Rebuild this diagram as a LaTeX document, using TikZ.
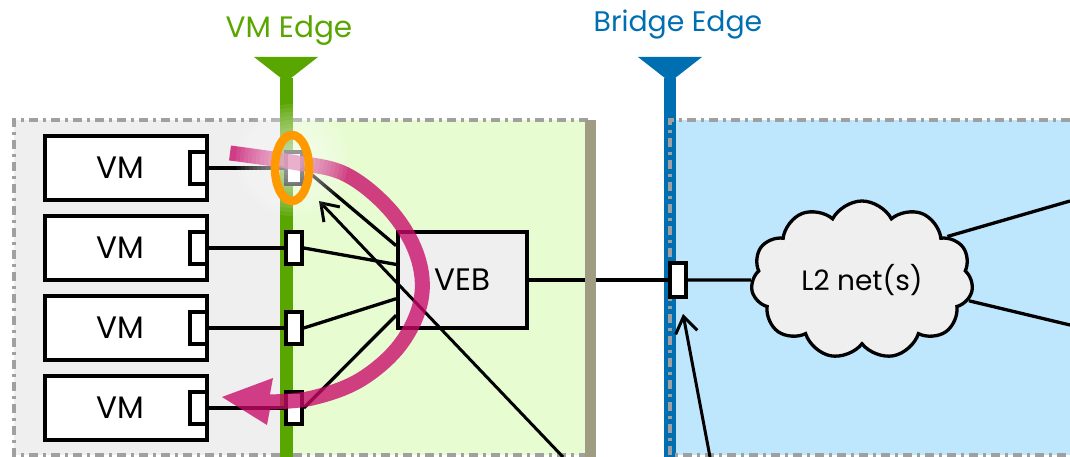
\documentclass[tikz,border=0pt]{standalone}
\usepackage{fontspec}
\setmainfont{Poppins}
\usetikzlibrary{shapes.symbols,arrows.meta,calc}
\definecolor{vmgreen}{RGB}{90,166,0}
\definecolor{brblue}{RGB}{0,111,178}
\definecolor{lgreen}{RGB}{232,252,210}
\definecolor{lgray}{RGB}{239,239,239}
\definecolor{lblue}{RGB}{190,230,252}
\definecolor{olivebar}{RGB}{160,156,132}
\definecolor{dashgray}{RGB}{160,160,160}
\definecolor{ringorange}{RGB}{255,153,0}
\definecolor{flowpink}{RGB}{200,10,105}
\begin{document}
\begin{tikzpicture}[x=1pt,y=-1pt,
  txt/.style={font=\fontsize{31}{34}\selectfont},
  title/.style={font=\fontsize{29.5}{32}\selectfont, anchor=base},
  vmbox/.style={draw, line width=4.2pt, fill=white, minimum width=162pt,
    minimum height=64pt, inner sep=0pt, txt},
  port/.style={draw, line width=3.6pt, fill=white, minimum width=16pt,
    minimum height=32pt, inner sep=0pt},
  wire/.style={line width=3.3pt},
  pointer/.style={line width=3pt, -{Straight Barb[length=16pt,width=22pt,line width=3pt]}},
  border/.style={dashgray, line width=3.2pt, dash pattern=on 9pt off 5pt on 3pt off 5pt},
]
\useasboundingbox (0,0) rectangle (1070,457);

% regions
\fill[lgray] (14,120) rectangle (282,455);
\fill[lgreen] (282,120) rectangle (588,455);
\fill[lblue] (670,120) rectangle (1070,455);

% bridge edge line, under the dashed border
\fill[brblue] (638,57) -- (702,57) -- (670,82) -- cycle;
\draw[brblue, line width=12pt] (670,78) -- (670,457);

% station and bridge borders
\draw[border] (588,120) -- (14,120) -- (14,455) -- (588,455);
\draw[border] (1070,120) -- (670,120) -- (670,455) -- (1070,455);

% VM edge line
\fill[vmgreen] (254,57) -- (318,57) -- (286,82) -- cycle;
\draw[vmgreen, line width=13pt] (286,78) -- (286,457);

% edge titles
\node[title, text=vmgreen] (vmedge) at (289,38) {VM Edge};
\node[title, text=brblue, font=\fontsize{28.3}{32}\selectfont] (bredge) at (678,32) {Bridge Edge};

% virtual machines with their ports
\foreach \i in {1,...,4}{
  \node[vmbox] (vm\i) at (126,88+80*\i) {VM\kern12pt};
  \node[port, minimum width=17pt] (vp\i) at (198.5,88+80*\i) {};
  \node[port] (gp\i) at (294,88+80*\i) {};
  \draw[wire] (vp\i.east) -- (gp\i.west);
}

% embedded bridge
\node[draw, line width=3.8pt, fill=lgray, minimum width=129pt, minimum height=96pt,
  inner sep=0pt, txt] (veb) at (462.5,280) {VEB};
\draw[wire] (gp1.east) -- ($(veb.north west)!0.156!(veb.south west)$);
\draw[wire] (gp2.east) -- ($(veb.north west)!0.344!(veb.south west)$);
\draw[wire] (gp3.east) -- ($(veb.north west)!0.6875!(veb.south west)$);
\draw[wire] (gp4.east) -- ($(veb.north west)!0.854!(veb.south west)$);

% bridge port and network
\node[port, minimum height=34pt] (bp) at (678,280) {};
\node[cloud, cloud puffs=11, cloud puff arc=125, aspect=1.45, draw, line width=3.3pt,
  fill=lgray, minimum width=222pt, minimum height=158pt, inner sep=0pt,
  font=\fontsize{28}{30}\selectfont] (net) at (862,280) {L2 net(s)};
\draw[wire] (veb.east) -- (bp.west);
\draw[wire] (bp.east) -- (net.west);
\coordinate (upout) at (1070,201);
\coordinate (downout) at (1070,325);
\draw[wire] (net.27) -- (upout);
\draw[wire] (net.-11) -- (downout);

% station boundary bar
\draw[olivebar, line width=11pt] (590.5,120) -- (590.5,457);

% pointers from below
\coordinate (ptrA) at (563,457);
\coordinate (ptrB) at (710,457);
\draw[pointer] (ptrA) -- (319,201);
\draw[pointer] (ptrB) -- (683,314);

% hairpin flow
\begin{scope}[transparency group, opacity=0.78]
  \draw[flowpink, line width=15pt] plot[smooth, tension=0.6] coordinates
    {(230,153) (292,162) (345,174) (390,210) (417,255) (421,300) (400,345)
     (360,380) (312,398) (268,402)};
  \fill[flowpink] (222,397) -- (273,378) -- (270,394) -- (270,409) -- (267,425) -- cycle;
\end{scope}

% glow round the reflected port
\foreach \r in {56,52,...,12}
  \fill[white, opacity=0.075] (292,160) circle (\r);

\draw[ringorange, line width=8.5pt] (292,168) ellipse (17 and 33);
\end{tikzpicture}
\end{document}
